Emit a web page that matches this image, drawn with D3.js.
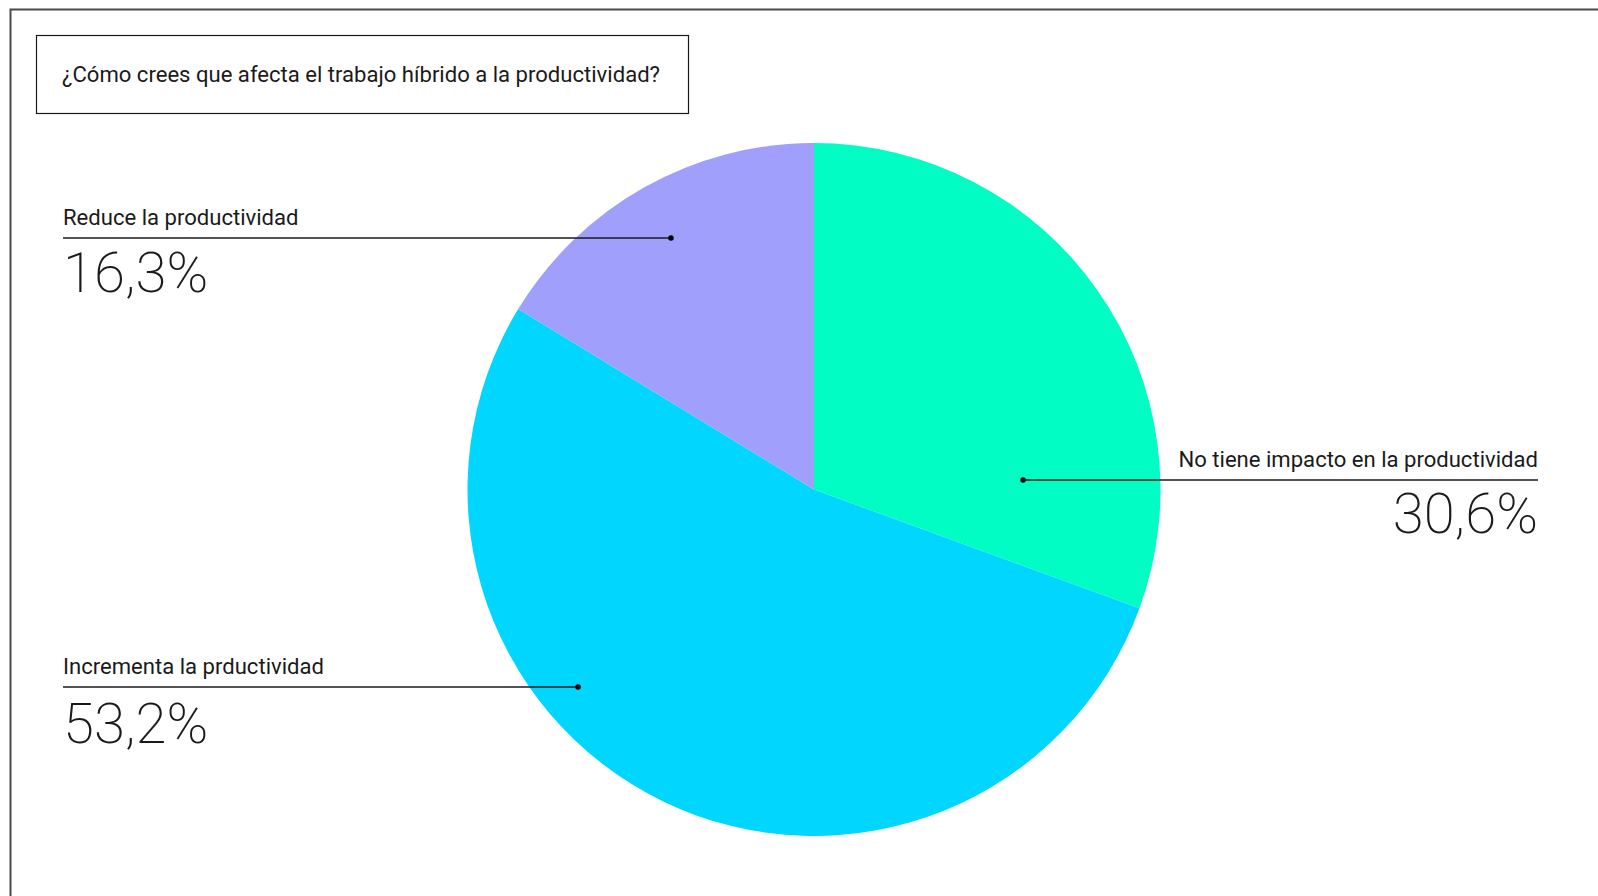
<!DOCTYPE html>
<html lang="es">
<head>
<meta charset="utf-8">
<script src="https://cdn.jsdelivr.net/npm/d3@7"></script>
<style>
  html, body { margin: 0; padding: 0; background: #ffffff; overflow: hidden; }
  svg { display: block; }
  .lbl { font-family: Roboto, "Liberation Sans", sans-serif; font-size: 20px; fill: #1a1a1a; }
  .pct { font-family: Roboto, sans-serif; font-weight: 200; font-size: 56px; fill: #1a1a1a; }
</style>
</head>
<body>
<script>
// Survey question and answer shares (percent)
const title = "¿Cómo crees que afecta el trabajo híbrido a la productividad?";
const categories = ["No tiene impacto en la productividad", "Incrementa la prductividad", "Reduce la productividad"];
const values = [30.6, 53.2, 16.3];
const valueLabels = ["30,6%", "53,2%", "16,3%"];
const colors = ["#02FDC4", "#00D6FE", "#A09FFB"];

const W = 1598, H = 896;
const svg = d3.select("body").append("svg").attr("width", W).attr("height", H);

// Outer frame (runs off the right and bottom edges)
svg.append("rect")
  .attr("x", 10.5).attr("y", 9.5).attr("width", W + 20).attr("height", H + 20)
  .attr("fill", "none").attr("stroke", "#4a4a4a").attr("stroke-width", 2);

// Title box
svg.append("rect")
  .attr("x", 36.5).attr("y", 35.5).attr("width", 652).attr("height", 78)
  .attr("fill", "#fff").attr("stroke", "#1a1a1a").attr("stroke-width", 1.2);
const titleText = svg.append("text").attr("class", "lbl")
  .attr("x", 62).attr("y", 81.5).text(title);

// Pie
const cx = 814, cy = 489.5, R = 346.5;
const pie = d3.pie().sort(null).value(d => d)(values);
const arc = d3.arc().innerRadius(0).outerRadius(R);
const g = svg.append("g").attr("transform", `translate(${cx},${cy})`);
g.selectAll("path").data(pie).join("path")
  .attr("d", arc)
  .attr("fill", (d, i) => colors[i]);

// Callouts: anchor dot inside each slice, leader line to the text block
const callouts = [
  { i: 0, r: 0.604, side: "right", lineX: 1538, lineY: 480, nameY: 467, pctY: 533, nameW: 358, pctW: 148 },
  { i: 1, r: 0.888, side: "left",  lineX: 63,   lineY: 687, nameY: 674, pctY: 743, nameW: 261, pctW: 150 },
  { i: 2, r: 0.835, side: "left",  lineX: 63,   lineY: 238, nameY: 225, pctY: 292, nameW: 237, pctW: 138 }
];

const nameNodes = [], pctNodes = [];
callouts.forEach(c => {
  const d = pie[c.i];
  const yRel = c.lineY - cy;
  const mid = (d.startAngle + d.endAngle) / 2;
  const rr = R * c.r;
  // dot sits at distance rr from the centre, on the leader's height
  const xRel = Math.sign(Math.sin(mid)) * Math.sqrt(Math.max(0, rr * rr - yRel * yRel));
  const dotX = cx + xRel, dotY = c.lineY;

  svg.append("line")
    .attr("x1", dotX).attr("y1", dotY)
    .attr("x2", c.lineX).attr("y2", c.lineY)
    .attr("stroke", "#1a1a1a").attr("stroke-width", 1.5);
  svg.append("circle").attr("cx", dotX).attr("cy", dotY).attr("r", 2.8).attr("fill", "#000");

  const anchor = c.side === "right" ? "end" : "start";
  nameNodes.push([svg.append("text").attr("class", "lbl")
    .attr("x", c.lineX).attr("y", c.nameY).attr("text-anchor", anchor)
    .text(categories[c.i]), c.nameW]);
  pctNodes.push([svg.append("text").attr("class", "pct")
    .attr("x", c.lineX).attr("y", c.pctY).attr("text-anchor", anchor)
    .text(valueLabels[c.i]), c.pctW]);
});
nameNodes.push([titleText, 598]);

// Size each text group so that its runs reach the intended widths
function fit(nodes, base) {
  const k = d3.mean(nodes, ([t, w]) => w / t.node().getComputedTextLength());
  nodes.forEach(([t]) => t.style("font-size", (base * k).toFixed(2) + "px"));
}
fit(nameNodes, 20);
fit(pctNodes, 56);
</script>
</body>
</html>
